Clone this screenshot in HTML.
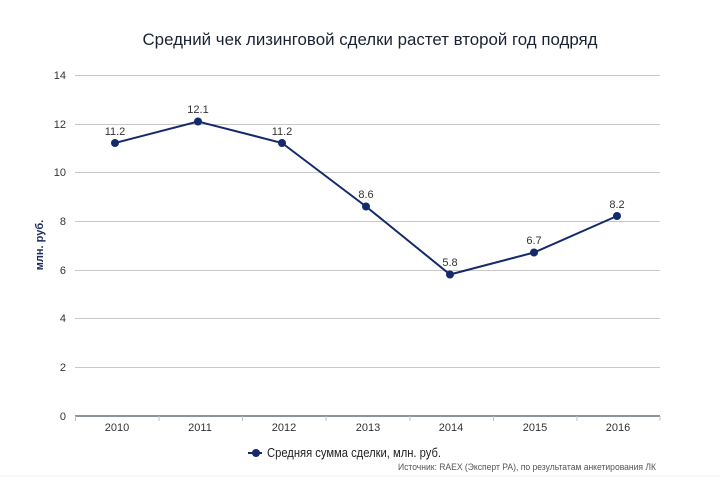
<!DOCTYPE html>
<html><head><meta charset="utf-8"><style>
body{margin:0;background:#fff;}
svg text{font-family:"Liberation Sans","DejaVu Sans",sans-serif;}
</style></head><body>
<svg width="720" height="480" viewBox="0 0 720 480" xmlns="http://www.w3.org/2000/svg">
<rect width="720" height="480" fill="#fff"/>
<text x="370" y="45" text-anchor="middle" font-size="16.5" fill="#1a2233" textLength="455" lengthAdjust="spacingAndGlyphs">Средний чек лизинговой сделки растет второй год подряд</text>
<g stroke="#c8c8c8" stroke-width="1">
<line x1="75" y1="75.5" x2="660" y2="75.5"/>
<line x1="75" y1="124.5" x2="660" y2="124.5"/>
<line x1="75" y1="172.5" x2="660" y2="172.5"/>
<line x1="75" y1="221.5" x2="660" y2="221.5"/>
<line x1="75" y1="270.5" x2="660" y2="270.5"/>
<line x1="75" y1="318.5" x2="660" y2="318.5"/>
<line x1="75" y1="367.5" x2="660" y2="367.5"/>
</g>
<line x1="75" y1="416" x2="660" y2="416" stroke="#8a94a0" stroke-width="2"/>
<g stroke="#c0c0c0"><line x1="75.5" y1="416" x2="75.5" y2="421"/><line x1="159" y1="416" x2="159" y2="421"/><line x1="242.5" y1="416" x2="242.5" y2="421"/><line x1="326" y1="416" x2="326" y2="421"/><line x1="410" y1="416" x2="410" y2="421"/><line x1="493.5" y1="416" x2="493.5" y2="421"/><line x1="577" y1="416" x2="577" y2="421"/><line x1="660" y1="416" x2="660" y2="421"/></g>
<g font-size="11" fill="#333" text-anchor="end">
<text x="66" y="79">14</text><text x="66" y="128">12</text><text x="66" y="176">10</text><text x="66" y="225">8</text><text x="66" y="274">6</text><text x="66" y="322">4</text><text x="66" y="371">2</text><text x="66" y="420">0</text>
</g>
<text transform="translate(43,245) rotate(-90)" text-anchor="middle" font-size="11" font-weight="bold" fill="#1a2a5e">млн. руб.</text>
<g font-size="11" fill="#333" text-anchor="middle">
<text x="117" y="431">2010</text><text x="200" y="431">2011</text><text x="284" y="431">2012</text><text x="368" y="431">2013</text><text x="451" y="431">2014</text><text x="535" y="431">2015</text><text x="618" y="431">2016</text>
</g>
<polyline fill="none" stroke="#152a6b" stroke-width="2" points="115,143 198,121.5 282,143 366,206.5 450,274.5 534,252.5 617,216"/>
<g fill="#152a6b">
<circle cx="115" cy="143" r="4"/><circle cx="198" cy="121.5" r="4"/><circle cx="282" cy="143" r="4"/><circle cx="366" cy="206.5" r="4"/><circle cx="450" cy="274.5" r="4"/><circle cx="534" cy="252.5" r="4"/><circle cx="617" cy="216" r="4"/>
</g>
<g font-size="11" fill="#333" text-anchor="middle">
<text x="115" y="135">11.2</text><text x="198" y="113">12.1</text><text x="282" y="135">11.2</text><text x="366" y="198">8.6</text><text x="450" y="266">5.8</text><text x="534" y="244">6.7</text><text x="617" y="208">8.2</text>
</g>
<line x1="248" y1="453" x2="262" y2="453" stroke="#152a6b" stroke-width="2"/>
<circle cx="256" cy="453" r="4" fill="#152a6b"/>
<text x="267" y="457" font-size="12.5" fill="#222" textLength="174" lengthAdjust="spacingAndGlyphs">Средняя сумма сделки, млн. руб.</text>
<text x="656" y="470" text-anchor="end" font-size="9.5" fill="#555" textLength="258" lengthAdjust="spacingAndGlyphs">Источник: RAEX (Эксперт РА), по результатам анкетирования ЛК</text>
<line x1="0" y1="476" x2="720" y2="476" stroke="#f0f0f0"/>
</svg>
</body></html>
